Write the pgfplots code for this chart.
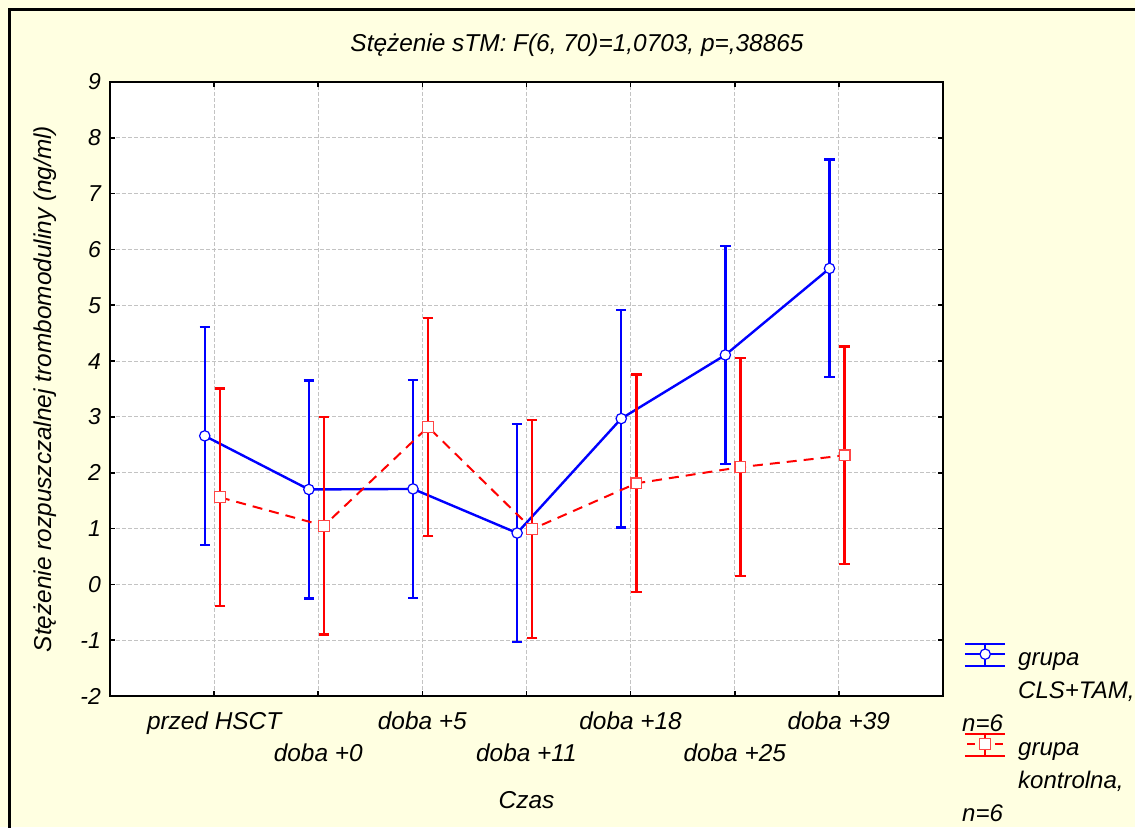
\documentclass[border=0pt]{standalone}
\usepackage{pgfplots}
\pgfplotsset{compat=1.18}
\usepackage{fontspec}
\setmainfont{Liberation Sans}
\definecolor{paper}{RGB}{255,255,225}
\definecolor{gridgray}{RGB}{195,195,195}
\definecolor{lightred}{RGB}{255,70,70}

% group means with half-widths of the 95% confidence intervals
\pgfplotstableread{
x      y      e
-0.09  2.66   1.95
 0.91  1.70   1.95
 1.91  1.71   1.95
 2.91  0.92   1.95
 3.91  2.97   1.95
 4.91  4.11   1.95
 5.91  5.66   1.95
}\cls
\pgfplotstableread{
x      y      e
 0.055 1.56   1.95
 1.055 1.05   1.95
 2.055 2.82   1.95
 3.055 0.99   1.95
 4.055 1.81   1.95
 5.055 2.10   1.95
 6.055 2.31   1.95
}\kontrol

\begin{document}
\begin{tikzpicture}[font=\itshape]
\useasboundingbox (0,0) rectangle (567.5pt,413.5pt);
\begin{scope}
  \clip (0,0) rectangle (567.5pt,413.5pt);
  \fill[paper] (0,0) rectangle (567.5pt,413.5pt);
  \draw[line width=1.5pt] (4.5pt,-20pt) |- (600pt,408.5pt);
\end{scope}
\node at (288.5pt,391pt) {\fontsize{12.2}{14}\selectfont Stężenie sTM: F(6, 70)=1,0703, p=,38865};

\begin{axis}[
  scale only axis, width=416.5pt, height=307pt,
  at={(55pt,65.5pt)}, anchor=south west,
  xmin=-1, xmax=7, ymin=-2, ymax=9,
  axis background/.style={fill=white},
  ytick={-2,-1,0,1,2,3,4,5,6,7,8,9},
  yticklabels={-2,-1,0,1,2,3,4,5,6,7,8,9},
  xtick={0,2,4,6},
  xticklabels={przed HSCT, doba +5, doba +18, doba +39},
  extra x ticks={1,3,5},
  extra x tick labels={doba +0, doba +11, doba +25},
  extra x tick style={grid=major, xticklabel style={yshift=-16pt}},
  grid=major,
  grid style={gridgray, line width=0.5pt, dash pattern=on 2pt off 1pt},
  tick align=inside, major tick length=2.5pt,
  axis line style={line width=1pt},
  tick style={black, line width=0.8pt},
  xticklabel style={font=\fontsize{12.2}{14}\selectfont\itshape, text height=9pt, text depth=2.5pt, yshift=-4pt},
  yticklabel style={font=\fontsize{11.5}{13}\selectfont\itshape, xshift=-1pt},
  xlabel={Czas},
  xlabel style={font=\fontsize{12.2}{14}\selectfont\itshape, at={(axis description cs:0.5,-0.169)}, anchor=center},
  ylabel={Stężenie rozpuszczalnej trombomoduliny (ng/ml)},
  ylabel style={font=\fontsize{12.2}{14}\selectfont\itshape, at={(axis description cs:-0.078,0.5)}, anchor=center, rotate=0},
  legend style={draw=none, fill=none, at={(axis description cs:1.019,0.085)}, anchor=north west,
    font=\fontsize{12}{16.5}\selectfont\itshape, cells={align=left}, row sep=0pt},
  legend cell align=left,
]
\addplot[blue, line width=1.2pt, mark=*, mark size=2.6pt,
  mark options={fill=white, draw=blue, line width=0.6pt, solid},
  legend image code/.code={
    \path[draw=none] (0pt,0pt) -- (24.5pt,0pt);
    \begin{scope}[overlay, yshift=19.5pt, blue, line width=1pt, solid]
      \draw (0pt,5pt) -- (20pt,5pt);
      \draw (0pt,-6pt) -- (20pt,-6pt);
      \draw (0pt,0pt) -- (20pt,0pt);
      \draw (10pt,5pt) -- (10pt,-6pt);
      \draw[fill=white, line width=0.6pt] (10pt,0pt) circle (2.6pt);
    \end{scope}},
  error bars/.cd, y dir=both, y explicit,
  error bar style={line width=1.2pt, solid},
  error mark options={rotate=90, mark size=2.6pt, line width=1.2pt}]
  table[x=x, y=y, y error=e] {\cls};
\addlegendentry{grupa\\CLS+TAM,\\\hspace*{-28pt}n=6}

\addplot[red, line width=1pt, dash pattern=on 5pt off 3.5pt, mark=square*, mark size=2.7pt,
  mark options={fill=white, draw=lightred, line width=0.6pt, solid},
  legend image code/.code={
    \path[draw=none] (0pt,0pt) -- (24.5pt,0pt);
    \begin{scope}[overlay, yshift=19.5pt, red, line width=1pt, solid]
      \draw (0pt,5pt) -- (20pt,5pt);
      \draw (0pt,-6pt) -- (20pt,-6pt);
      \draw (1pt,0pt) -- (5pt,0pt);
      \draw (15pt,0pt) -- (19pt,0pt);
      \draw (10pt,5pt) -- (10pt,-6pt);
      \draw[draw=lightred, fill=white, line width=0.6pt] (7.3pt,-2.7pt) rectangle (12.7pt,2.7pt);
    \end{scope}},
  error bars/.cd, y dir=both, y explicit,
  error bar style={line width=1.2pt, solid},
  error mark options={rotate=90, mark size=2.6pt, line width=1.2pt, solid}]
  table[x=x, y=y, y error=e] {\kontrol};
\addlegendentry{grupa\\kontrolna,\\\hspace*{-28pt}n=6}
\end{axis}
\end{tikzpicture}
\end{document}
